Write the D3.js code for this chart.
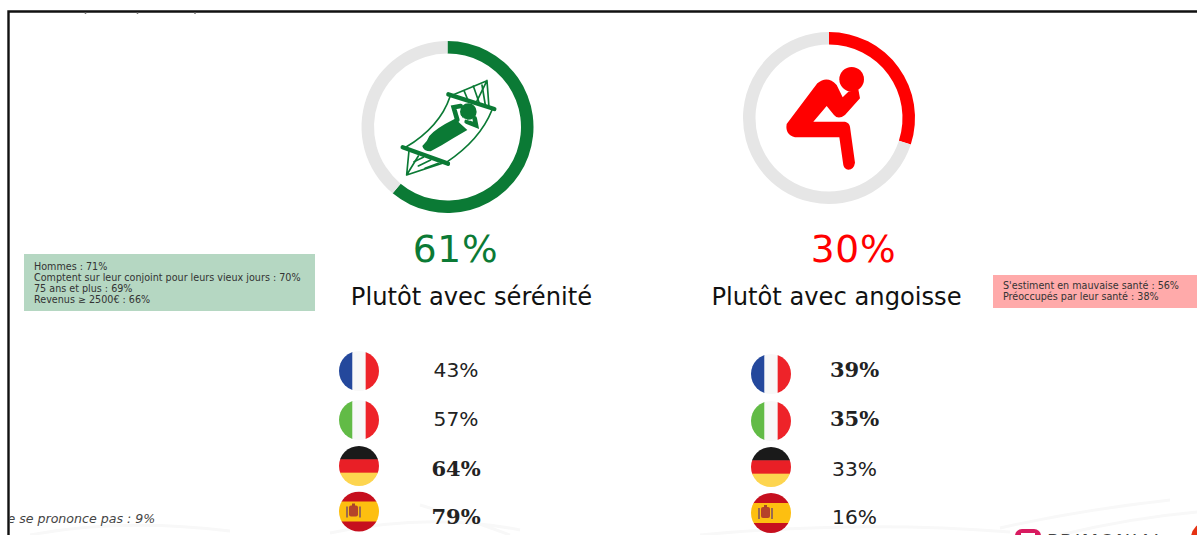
<!DOCTYPE html>
<html>
<head>
<meta charset="utf-8">
<script src="https://cdn.jsdelivr.net/npm/d3@7"></script>
<style>
  html, body { margin: 0; padding: 0; background: #fff; overflow: hidden; }
  svg text { font-family: "DejaVu Sans", sans-serif; }
  svg text.bold-value { font-family: "DejaVu Serif", serif; font-weight: bold; }
</style>
</head>
<body>
<div id="chart"></div>
<script>
// Data
const answers = ["Plutôt avec sérénité", "Plutôt avec angoisse"];
const answerValues = [61, 30];
const answerColors = ["#0b7a35", "#ff0000"];
const countries = ["France", "Italie", "Allemagne", "Espagne"];
const sereniteValues = [43, 57, 64, 79];
const angoisseValues = [39, 35, 33, 16];
const sereniteBold = [false, false, true, true];
const angoisseBold = [true, true, false, false];
const greenNotes = ["Hommes : 71%", "Comptent sur leur conjoint pour leurs vieux jours : 70%", "75 ans et plus : 69%", "Revenus ≥ 2500€ : 66%"];
const redNotes = ["S'estiment en mauvaise santé : 56%", "Préoccupés par leur santé : 38%"];
const noAnswer = "Ne se prononce pas : 9%";
const logoText = "PRIMONIAL";

const width = 1197, height = 535;

const svg = d3.select("#chart").append("svg")
    .attr("width", width)
    .attr("height", height)
    .style("display", "block");

// Faint waves behind the bottom of the page
svg.append("path")
    .attr("d", "M30,535Q120,518 230,531M330,533Q430,512 520,530M700,535Q860,520 1010,532M1000,528Q1080,510 1170,500M1060,535Q1130,518 1197,512M420,505Q470,520 510,535")
    .attr("fill", "none")
    .attr("stroke", "#f8f8f8")
    .attr("stroke-width", 3);

// Frame, open on the right and bottom
svg.append("path")
    .attr("d", "M8.5,535V11.5H1197")
    .attr("fill", "none")
    .attr("stroke", "#111")
    .attr("stroke-width", 2.4);
svg.append("path")
    .attr("d", "M85.5,12.5v1.5M137.5,12.5v1.5M195,12.5v1.5")
    .attr("stroke", "#777")
    .attr("stroke-width", 1.5);

// Rings
const ringCenters = [[447.5, 127], [829, 118]];
const pie = d3.pie().sort(null);
const arc = d3.arc().innerRadius(73.5).outerRadius(86);

answerValues.forEach((value, i) => {
    svg.append("g")
        .attr("transform", `translate(${ringCenters[i]})`)
        .selectAll("path")
        .data(pie([value, 100 - value]))
        .join("path")
        .attr("d", arc)
        .attr("fill", (d, j) => j === 0 ? answerColors[i] : "#e6e6e6");
});

// Hammock icon, traced in 3x coordinates
const hammock = svg.append("g")
    .attr("transform", "translate(340,20) scale(0.3333)")
    .attr("fill", "none")
    .attr("stroke", answerColors[0])
    .attr("stroke-linecap", "round");
hammock.append("path").attr("stroke-width", 13).attr("d", "M325,223L463,267M188,382L324,431");
hammock.append("path").attr("stroke-width", 5)
    .attr("d", "M330,230Q300,320 197,382M456,270Q420,360 318,428M441,182L340,224M441,182L410,245M441,182L447,262M200,465L207,392M200,465L235,408M200,465L312,428");
hammock.append("path").attr("stroke-width", 5)
    .attr("d", "M372,212L385,243M400,198L418,250M426,195L436,255M222,425L250,412M235,438L272,420M255,445L295,430");
hammock.append("path").attr("stroke", "none").attr("fill", answerColors[0])
    .attr("d", "M345,296L382,330Q340,354 305,376L272,394Q250,394 247,378Q262,365 268,348Q285,326 345,296Z");
hammock.append("circle").attr("cx", 385).attr("cy", 275).attr("r", 25).attr("fill", answerColors[0]).attr("stroke", "none");
hammock.append("path").attr("stroke-width", 14).attr("d", "M352,300L341,262L362,258M380,305L408,316L404,295");
hammock.append("path").attr("stroke", "#fff").attr("stroke-width", 2.5).attr("stroke-dasharray", "4 5").attr("d", "M356,282Q370,300 396,302");

// Worried figure icon, traced in 3x coordinates
const figure = svg.append("g")
    .attr("transform", "translate(730,20) scale(0.3333)")
    .attr("fill", answerColors[1]);
figure.append("circle").attr("cx", 365).attr("cy", 178).attr("r", 37);
figure.append("path")
    .attr("d", "M262,190Q292,165 320,195L338,232L355,215L385,208L390,235L345,285Q325,300 312,285L290,258L250,305L345,305Q358,308 360,320L375,428Q372,448 355,449Q343,448 340,435L328,352L195,352Q165,345 170,312Z");

// Big percentages and labels
const bigCenters = [455.5, 853.5];
const labelCenters = [471.5, 836.5];
svg.selectAll(".big")
    .data(answerValues)
    .join("text")
    .attr("class", "big")
    .attr("x", (d, i) => bigCenters[i])
    .attr("y", 262)
    .attr("text-anchor", "middle")
    .attr("font-size", 37.5)
    .attr("letter-spacing", 0.8)
    .attr("fill", (d, i) => answerColors[i])
    .text(d => d + "%");
svg.selectAll(".answer")
    .data(answers)
    .join("text")
    .attr("class", "answer")
    .attr("x", (d, i) => labelCenters[i])
    .attr("y", 305)
    .attr("text-anchor", "middle")
    .attr("font-size", 24.2)
    .attr("fill", "#111")
    .text(d => d);

// Side notes
const notes = [
    { lines: greenNotes, x: 24, y: 254, w: 291, h: 57, fill: "#b5d7c2", tx: 34, ty: 270 },
    { lines: redNotes, x: 993, y: 275, w: 204, h: 33, fill: "#ffaaaa", tx: 1003, ty: 289 }
];
notes.forEach(n => {
    svg.append("rect").attr("x", n.x).attr("y", n.y).attr("width", n.w).attr("height", n.h).attr("fill", n.fill);
    svg.append("g").selectAll("text")
        .data(n.lines)
        .join("text")
        .attr("x", n.tx)
        .attr("y", (d, i) => n.ty + i * 11)
        .attr("font-size", 9.6)
        .attr("fill", "#333")
        .text(d => d);
});

// Country flags
const defs = svg.append("defs");
const flagRadius = 20;
function drawFlag(cx, cy, name, id) {
    defs.append("clipPath").attr("id", id)
        .append("circle").attr("cx", cx).attr("cy", cy).attr("r", flagRadius);
    const g = svg.append("g").attr("clip-path", `url(#${id})`);
    const x = cx - flagRadius, y = cy - flagRadius, s = flagRadius * 2;
    const vertical = (a, b, c) => [a, b, c].forEach((col, k) =>
        g.append("rect").attr("x", x + k * s / 3).attr("y", y).attr("width", s / 3 + 0.5).attr("height", s).attr("fill", col));
    const horizontal = (cols, hs) => {
        let yy = y;
        cols.forEach((col, k) => {
            g.append("rect").attr("x", x).attr("y", yy).attr("width", s).attr("height", hs[k] * s + 0.5).attr("fill", col);
            yy += hs[k] * s;
        });
    };
    if (name === "France") vertical("#24489c", "#f8f8f8", "#ee2329");
    if (name === "Italie") vertical("#62bb46", "#f8f8f8", "#ee2329");
    if (name === "Allemagne") horizontal(["#1a1a1a", "#e91f26", "#fdd54f"], [1 / 3, 1 / 3, 1 / 3]);
    if (name === "Espagne") {
        horizontal(["#c60f1e", "#fdbf10", "#c60f1e"], [0.25, 0.5, 0.25]);
        g.append("rect").attr("x", cx - 10).attr("y", cy - 6).attr("width", 9).attr("height", 11).attr("fill", "#b5432a").attr("rx", 2);
        g.append("rect").attr("x", cx - 7).attr("y", cy - 8).attr("width", 3).attr("height", 3).attr("fill", "#a8442a");
        g.append("rect").attr("x", cx - 13).attr("y", cy - 5).attr("width", 2).attr("height", 11).attr("fill", "#9a6a50");
        g.append("rect").attr("x", cx).attr("y", cy - 5).attr("width", 2).attr("height", 11).attr("fill", "#9a6a50");
    }
}

// Rows are not evenly spaced in the picture
const flagYLeft = d3.scaleOrdinal().domain(countries).range([371, 420, 466, 511.5]);
const flagYRight = d3.scaleOrdinal().domain(countries).range([374, 421, 467, 513]);
const textY = d3.scaleOrdinal().domain(countries).range([377, 426, 476, 524]);
const columns = [
    { values: sereniteValues, bold: sereniteBold, flagY: flagYLeft, flagX: 359, textX: 456, key: "s" },
    { values: angoisseValues, bold: angoisseBold, flagY: flagYRight, flagX: 771, textX: 854.5, key: "a" }
];
columns.forEach(col => {
    countries.forEach((c, i) => {
        drawFlag(col.flagX, col.flagY(c), c, `flag-${col.key}-${i}`);
        svg.append("text")
            .attr("class", col.bold[i] ? "bold-value" : null)
            .attr("x", col.textX)
            .attr("y", textY(c))
            .attr("text-anchor", "middle")
            .attr("font-size", col.bold[i] ? 21 : 20.2)
            .attr("fill", "#222")
            .text(col.values[i] + "%");
    });
});

// Non-response note, cut by the frame
defs.append("clipPath").attr("id", "left-cut")
    .append("rect").attr("x", 9.5).attr("y", 500).attr("width", 300).attr("height", 35);
svg.append("g").attr("clip-path", "url(#left-cut)")
    .append("text")
    .attr("x", -2)
    .attr("y", 523)
    .attr("font-size", 12.6)
    .attr("font-style", "italic")
    .attr("fill", "#444")
    .text(noAnswer);

// Logo, cut by the bottom edge
svg.append("rect")
    .attr("x", 1015).attr("y", 529).attr("width", 26).attr("height", 20).attr("rx", 7)
    .attr("fill", "#d81b60");
svg.append("rect")
    .attr("x", 1021).attr("y", 533).attr("width", 14).attr("height", 10)
    .attr("fill", "#fff");
svg.append("text")
    .attr("x", 1047)
    .attr("y", 548)
    .attr("font-size", 19)
    .attr("letter-spacing", 1.5)
    .attr("fill", "#444")
    .text(logoText);
svg.append("circle")
    .attr("cx", 1207).attr("cy", 538).attr("r", 16)
    .attr("fill", "#e53212");
</script>
</body>
</html>
